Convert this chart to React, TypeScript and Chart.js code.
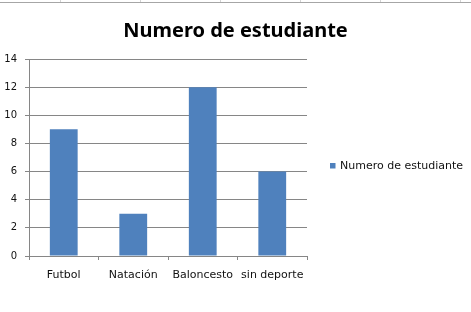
import React, { useEffect, useRef } from "react";
import { Chart, registerables } from "chart.js";

Chart.register(...registerables);

const categories = ["Futbol", "Natación", "Baloncesto", "sin deporte"];
const seriesLabel = "Numero de estudiante";
const seriesValues = [9, 3, 12, 6];
const titleText = "Numero de estudiante";
const yMax = 14;
const yStep = 2;

const BAR_COLOR = "#4F81BD";
const GRID_COLOR = "#868686";
const TEXT_COLOR = "#111111";
const FONT = "'DejaVu Sans', sans-serif";

const legendPlugin = {
  id: "sideLegend",
  afterDraw(chart: any) {
    const ctx = chart.ctx;
    const ds = chart.data.datasets[0];
    const x = chart.chartArea.right + 23;
    const y = 165.5;
    ctx.save();
    ctx.fillStyle = ds.backgroundColor;
    ctx.fillRect(x, y - 2.5, 5.5, 5.5);
    ctx.fillStyle = TEXT_COLOR;
    ctx.font = `11px ${FONT}`;
    ctx.textBaseline = "middle";
    ctx.textAlign = "left";
    ctx.fillText(ds.label, x + 10, y + 0.5);
    ctx.restore();
  },
};

export default function App() {
  const ref = useRef<HTMLCanvasElement | null>(null);

  useEffect(() => {
    if (!ref.current) return;
    const chart = new Chart(ref.current, {
      type: "bar",
      data: {
        labels: categories,
        datasets: [
          {
            label: seriesLabel,
            data: seriesValues,
            backgroundColor: BAR_COLOR,
            borderWidth: 0,
            categoryPercentage: 1,
            barPercentage: 0.4,
          },
        ],
      },
      options: {
        responsive: false,
        animation: false,
        devicePixelRatio: 1,
        layout: { padding: 0 },
        plugins: {
          legend: { display: false },
          tooltip: { enabled: false },
          title: {
            display: true,
            text: titleText,
            color: "#000000",
            font: { family: "'Noto Sans', sans-serif", size: 20, weight: "bold" },
            padding: { top: 19, bottom: 16 },
          },
        },
        scales: {
          x: {
            grid: {
              display: true,
              drawOnChartArea: false,
              drawTicks: true,
              tickLength: 4,
              color: GRID_COLOR,
              offset: true,
            },
            border: { display: true, color: GRID_COLOR },
            ticks: {
              color: TEXT_COLOR,
              font: { family: FONT, size: 11 },
              padding: 9,
              maxRotation: 0,
              autoSkip: false,
            },
            afterFit(scale: any) {
              scale.height = 56;
            },
          },
          y: {
            min: 0,
            max: yMax,
            ticks: {
              stepSize: yStep,
              color: TEXT_COLOR,
              font: { family: FONT, size: 10 },
              padding: 8,
            },
            grid: {
              color: GRID_COLOR,
              tickLength: 4,
              drawTicks: true,
            },
            border: { display: true, color: GRID_COLOR },
            afterFit(scale: any) {
              scale.width = 29;
            },
          },
          legendSpace: {
            type: "linear",
            position: "right",
            display: true,
            grid: { display: false },
            border: { display: false },
            ticks: { display: false },
            afterFit(scale: any) {
              scale.width = 164;
            },
          },
        },
      },
      plugins: [legendPlugin],
    });
    return () => chart.destroy();
  }, []);

  const cols = [60, 140, 220, 300, 380, 460];
  return (
    <div style={{ position: "fixed", left: 0, top: 0, width: 471, height: 312, background: "#fff" }}>
      {cols.map((c) => (
        <div key={c} style={{ position: "absolute", left: c, top: 0, width: 1, height: 2, background: "#d4d4d4" }} />
      ))}
      <div style={{ position: "absolute", left: 0, top: 2, width: 471, height: 1, background: "#a6a6a6" }} />
      <canvas ref={ref} width={471} height={312} style={{ position: "absolute", left: 0, top: 0, width: 471, height: 312 }} />
    </div>
  );
}
